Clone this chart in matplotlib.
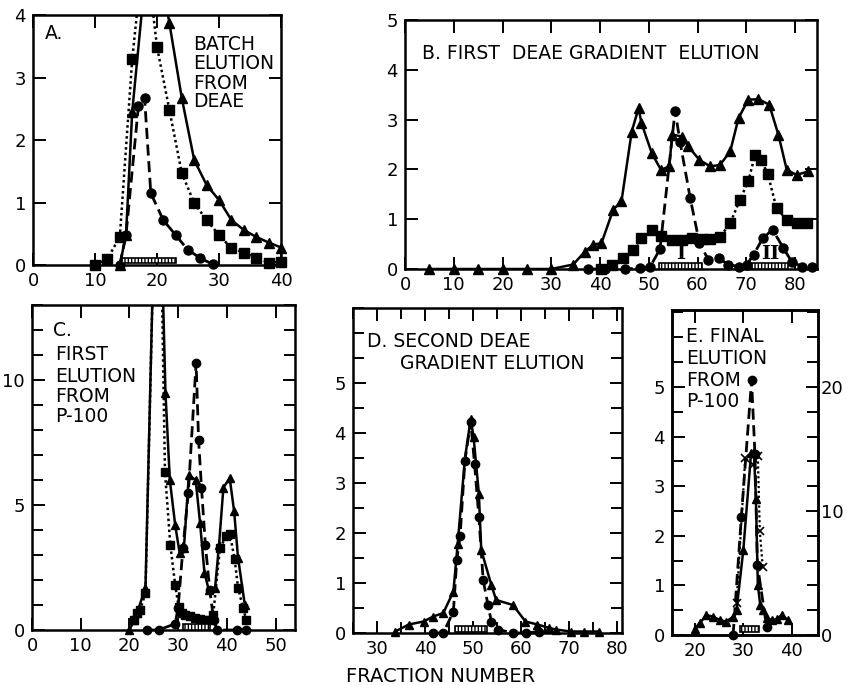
import matplotlib
matplotlib.use("Agg")
import matplotlib.pyplot as plt
from matplotlib.patches import Rectangle
from matplotlib.ticker import MultipleLocator, FixedLocator

plt.rcParams['font.family'] = ['DejaVu Sans']
plt.rcParams['hatch.linewidth'] = 1.0

# ---------------- DATA ----------------
# Panel A: batch elution from DEAE
a_tri_x = [14, 15, 16, 19, 22, 24, 26, 28, 30, 32, 34, 36, 38, 40]
a_tri_y = [0, 0.48, 2.45, 5.55, 3.87, 2.67, 1.68, 1.28, 1.04, 0.72, 0.56, 0.45, 0.36, 0.28]
a_sq_x = [10, 12, 14, 16, 18, 20, 22, 24, 26, 28, 30, 32, 34, 36, 38, 40]
a_sq_y = [0, 0.1, 0.45, 3.29, 5.2, 3.49, 2.48, 1.47, 0.99, 0.72, 0.48, 0.27, 0.2, 0.11, 0.04, 0.05]
a_ci_x = [14, 15, 17, 18, 19, 21, 23, 25, 27, 29]
a_ci_y = [0, 0.48, 2.54, 2.67, 1.15, 0.72, 0.48, 0.24, 0.11, 0.01]
a_bar = (14.4, 23.1)

# Panel B: first DEAE gradient elution
b_tri_x = [5, 10, 15, 20, 25, 30, 34.5, 36.9, 38.6, 40.3, 42.7, 44.4, 46.5, 47.9, 48.5,
           50.6, 52.5, 54.2, 54.8, 56.8, 58.1, 60.4, 62.6, 64.6, 66.7, 68.4, 70.4, 72.5,
           74.7, 76.6, 78.3, 80.3, 82.7]
b_tri_y = [0, 0, 0, 0, 0, 0, 0.09, 0.35, 0.49, 0.52, 1.19, 1.36, 2.76, 3.23, 2.93,
           2.33, 1.99, 2.06, 2.70, 2.66, 2.46, 2.19, 2.06, 2.09, 2.36, 3.03, 3.40, 3.41,
           3.30, 2.69, 1.99, 1.89, 1.96]
b_ci_x = [37.6, 41.0, 45.1, 48.2, 50.3, 52.3, 55.4, 56.4, 58.5, 60.4, 62.2, 64.3, 66.3,
          68.4, 70.1, 71.5, 73.4, 75.4, 77.6, 79.3, 81.4, 83.4]
b_ci_y = [0, 0, 0, 0.02, 0.05, 0.40, 3.18, 2.56, 1.42, 0.52, 0.19, 0.22, 0.09,
          0.05, 0.09, 0.29, 0.62, 0.79, 0.42, 0.15, 0.05, 0.04]
b_sq_x = [40.3, 42.4, 44.8, 46.8, 48.5, 50.6, 52.5, 54.7, 56.8, 58.8, 60.9, 62.6, 64.6,
          66.7, 68.7, 70.4, 71.8, 73.0, 74.4, 76.2, 78.3, 80.3, 82.5]
b_sq_y = [0, 0.09, 0.22, 0.39, 0.62, 0.79, 0.66, 0.59, 0.59, 0.62, 0.60, 0.60, 0.64,
          0.92, 1.39, 1.76, 2.29, 2.19, 1.91, 1.22, 0.99, 0.92, 0.92]
b_bars = [(52.0, 61.0), (71.1, 78.6)]
b_bar_labels = ['I', 'II']

# Panel C: first elution from P-100
c_tri_x = [20, 21, 21.6, 23.3, 25.3, 26.3, 27.4, 28.3, 29.4, 30.3, 31.2, 32.2, 33.6, 34.5,
           35.4, 36.3, 37.6, 38.4, 39.3, 40.6, 41.5, 42.3, 43.7]
c_tri_y = [0, 0.4, 0.7, 1.7, 18, 18, 9.5, 6.0, 4.2, 3.1, 3.3, 6.2, 6.0, 4.3,
           2.3, 1.6, 1.7, 3.4, 5.7, 6.07, 4.75, 2.9, 1.0]
c_sq_x = [20.9, 21.6, 22.2, 23.3, 25.3, 26.3, 27.3, 28.4, 29.4, 30.1, 30.7, 31.5, 32.5,
          33.5, 34.5, 35.5, 36.5, 37.2, 38.6, 39.9, 40.6, 41.6, 42.3, 43.3, 44.0]
c_sq_y = [0.4, 0.67, 0.8, 1.47, 18, 18, 6.33, 3.4, 1.8, 0.93, 0.7, 0.6, 0.55,
          0.5, 0.45, 0.4, 0.4, 0.6, 3.3, 3.75, 3.85, 2.85, 1.7, 0.9, 0.4]
c_ci_x = [23.6, 26.0, 29.4, 30.0, 31.0, 32.1, 33.7, 34.2, 34.8, 35.6, 36.5, 37.3, 38.0, 42.0, 44.0]
c_ci_y = [0, 0, 0.25, 0.9, 3.3, 5.5, 10.7, 7.6, 5.7, 3.4, 1.6, 0.4, 0, 0, 0]
c_bar = (31.0, 36.5)

# Panel D: second DEAE gradient elution
d_tri_x = [33.8, 36.6, 39.7, 41.7, 43.8, 45.9, 46.8, 48.3, 49.5, 50.1, 51.2, 51.7, 53.8,
           54.8, 58.3, 60.9, 63.4, 65.9, 67.2, 70.3, 73.1, 76.2]
d_tri_y = [0.03, 0.17, 0.23, 0.33, 0.40, 0.83, 1.79, 3.49, 4.28, 3.92, 2.79, 1.66, 0.96,
           0.66, 0.56, 0.23, 0.17, 0.10, 0.07, 0.03, 0.03, 0.03]
d_ci_x = [41.7, 43.8, 45.9, 46.6, 47.3, 48.3, 49.5, 50.3, 51.2, 52.1, 53.1, 53.8, 55.2,
          58.3, 61.0, 63.8]
d_ci_y = [0, 0, 0.43, 1.46, 1.95, 3.45, 4.22, 3.39, 2.32, 1.06, 0.56, 0.23, 0.07,
          0, 0, 0.03]
d_bar = (46.3, 52.8)

# Panel E: final elution from P-100
e_tri_x = [20, 21, 22.4, 23.8, 25.2, 26.5, 27.9, 28.6, 30.0, 31.6, 32.2, 32.6, 33.0, 33.5,
           34.1, 34.8, 35.9, 36.9, 37.9, 39.2]
e_tri_y = [0.13, 0.24, 0.40, 0.37, 0.30, 0.27, 0.37, 0.50, 1.71, 3.66, 3.68, 2.75, 1.0, 0.6,
           0.5, 0.34, 0.30, 0.32, 0.40, 0.30]
e_ci_x = [27.9, 29.6, 31.7, 32.4, 32.9, 34.8]
e_ci_y = [0.0, 2.38, 5.13, 3.65, 1.42, 0.17]
e_x_x = [28.6, 30.4, 31.9, 33.0, 33.4, 34.0]      # right-axis series
e_x_y = [2.6, 14.3, 13.7, 14.4, 8.4, 5.5]
e_bar = (29.3, 33.3)

# ---------------- FIGURE ----------------
W, H = 847, 685
fig = plt.figure(figsize=(W / 100, H / 100), dpi=100)
TXT = 13.5


def make_ax(l, r, t, b):
    return fig.add_axes([l / W, 1 - b / H, (r - l) / W, (b - t) / H])


def style(ax):
    for s in ax.spines.values():
        s.set_linewidth(1.8)
    ax.tick_params(which='both', direction='in', top=True, right=True,
                   width=1.4, labelsize=13, pad=5)
    ax.tick_params(which='major', length=9)
    ax.tick_params(which='minor', length=8)


def series(ax, x, y, marker, ls, ymax, ms=6.5, lw=1.8):
    ax.plot(x, y, ls=ls, color='k', lw=lw, zorder=3)
    pts = [(a, b) for a, b in zip(x, y) if b <= ymax]
    ax.plot([p[0] for p in pts], [p[1] for p in pts], ls='none', marker=marker,
            ms=ms, color='k', clip_on=False, zorder=4)


def bar(ax, x0, x1, y0, h):
    ax.add_patch(Rectangle((x0, y0), x1 - x0, h, facecolor='white', edgecolor='k',
                           hatch='|||||', lw=1.2, zorder=5, clip_on=False))


DASH = (0, (4, 2))
DOT = (0, (1, 1.2))

# Panel A
axA = make_ax(33, 281, 15, 265)
style(axA)
axA.set_xlim(0, 40)
axA.set_ylim(0, 4)
axA.xaxis.set_major_locator(MultipleLocator(10))
axA.yaxis.set_major_locator(MultipleLocator(1))
series(axA, a_sq_x, a_sq_y, 's', DOT, 4)
series(axA, a_ci_x, a_ci_y, 'o', DASH, 4, lw=2)
series(axA, a_tri_x, a_tri_y, '^', '-', 4)
bar(axA, a_bar[0], a_bar[1], 0.03, 0.08)
axA.text(0.048, 0.928, 'A.', transform=axA.transAxes, fontsize=TXT, va='center')
for txt, yy in zip(['BATCH', 'ELUTION', 'FROM', 'DEAE'], [44, 63.3, 83.3, 101.7]):
    axA.text(0.645, 1 - (yy - 15) / 250, txt, transform=axA.transAxes, fontsize=TXT,
             va='center')

# Panel B
axB = make_ax(405, 817, 20, 269)
style(axB)
axB.set_xlim(0, 84.5)
axB.set_ylim(0, 5)
axB.xaxis.set_major_locator(MultipleLocator(10))
axB.yaxis.set_major_locator(MultipleLocator(1))
series(axB, b_sq_x, b_sq_y, 's', DOT, 5)
series(axB, b_ci_x, b_ci_y, 'o', DASH, 5, lw=2)
series(axB, b_tri_x, b_tri_y, '^', '-', 5)
for (x0, x1), lab in zip(b_bars, b_bar_labels):
    bar(axB, x0, x1, 0.0, 0.12)
    axB.text((x0 + x1) / 2, 0.3, lab, fontsize=14, fontfamily='DejaVu Serif',
             fontweight='bold', ha='center', va='center', zorder=6)
axB.text(0.041, 0.867, 'B. FIRST  DEAE GRADIENT  ELUTION', transform=axB.transAxes,
         fontsize=TXT, va='center')

# Panel C
axC = make_ax(32, 295, 305, 630)
style(axC)
axC.set_xlim(0, 54)
axC.set_ylim(0, 13)
axC.xaxis.set_major_locator(MultipleLocator(10))
axC.yaxis.set_major_locator(MultipleLocator(5))
axC.yaxis.set_minor_locator(MultipleLocator(1))
series(axC, c_sq_x, c_sq_y, 's', DOT, 13, ms=6)
series(axC, c_ci_x, c_ci_y, 'o', DASH, 13, ms=6, lw=2)
series(axC, c_tri_x, c_tri_y, '^', '-', 13, ms=6)
bar(axC, c_bar[0], c_bar[1], 0.0, 0.25)
axC.text(0.081, 0.923, 'C.', transform=axC.transAxes, fontsize=TXT, va='center')
for txt, yy in zip(['FIRST', 'ELUTION', 'FROM', 'P-100'], [355, 376, 396.7, 416.7]):
    axC.text(0.087, 1 - (yy - 305) / 325, txt, transform=axC.transAxes, fontsize=TXT,
             va='center')

# Panel D
axD = make_ax(353, 622, 308, 633)
style(axD)
axD.set_xlim(25, 81)
axD.set_ylim(0, 6.5)
axD.xaxis.set_major_locator(FixedLocator([30, 40, 50, 60, 70, 80]))
axD.xaxis.set_minor_locator(MultipleLocator(5))
axD.yaxis.set_major_locator(FixedLocator([0, 1, 2, 3, 4, 5]))
axD.yaxis.set_minor_locator(MultipleLocator(0.5))
series(axD, d_ci_x, d_ci_y, 'o', DASH, 6.5, ms=6, lw=2)
series(axD, d_tri_x, d_tri_y, '^', '-', 6.5, ms=6)
bar(axD, d_bar[0], d_bar[1], 0.03, 0.12)
axD.text(0.051, 0.896, 'D. SECOND DEAE', transform=axD.transAxes, fontsize=TXT, va='center')
axD.text(0.175, 0.830, 'GRADIENT ELUTION', transform=axD.transAxes, fontsize=TXT,
         va='center')

# Panel E
axE = make_ax(672, 818, 310, 635)
style(axE)
axE.tick_params(which='both', right=False)
axE.set_xlim(15.3, 45.4)
axE.set_ylim(0, 6.55)
axE.xaxis.set_major_locator(MultipleLocator(10))
axE.yaxis.set_major_locator(FixedLocator([0, 1, 2, 3, 4, 5]))
axE.yaxis.set_minor_locator(MultipleLocator(0.5))
series(axE, e_tri_x, e_tri_y, '^', '-', 6.55, ms=6)
series(axE, e_ci_x, e_ci_y, 'o', DASH, 6.55, ms=6, lw=2)
bar(axE, e_bar[0], e_bar[1], 0.07, 0.12)
axE2 = axE.twinx()
axE2.set_ylim(0, 4 * 6.55)
axE2.yaxis.set_major_locator(FixedLocator([0, 10, 20]))
axE2.yaxis.set_minor_locator(MultipleLocator(2))
axE2.tick_params(which='both', direction='in', width=1.4, labelsize=13, pad=2)
axE2.tick_params(which='major', length=9)
axE2.tick_params(which='minor', length=8)
for s in axE2.spines.values():
    s.set_linewidth(1.8)
axE2.plot(e_x_x, e_x_y, ls=DOT, color='k', lw=1.6, marker='x', ms=6, mew=1.2)
for txt, yy in zip(['E. FINAL', 'ELUTION', 'FROM', 'P-100'], [336.7, 358.3, 380, 401.7]):
    axE.text(0.096, 1 - (yy - 310) / 325, txt, transform=axE.transAxes, fontsize=TXT,
             va='center', zorder=7)

fig.text(441 / W, 1 - 676 / H, 'FRACTION NUMBER', fontsize=14, ha='center', va='center')

fig.savefig('out.png', dpi=100)
